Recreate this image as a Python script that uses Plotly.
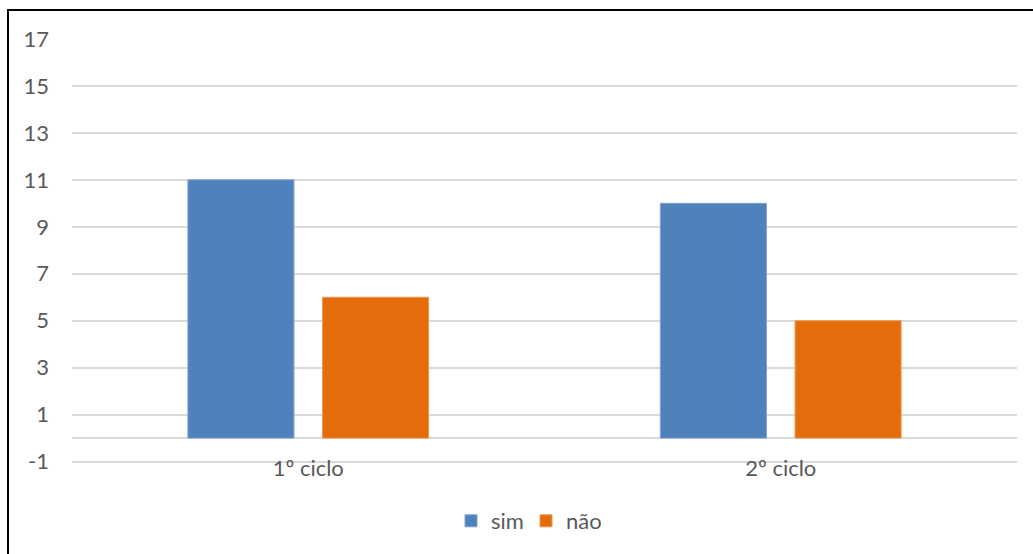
import plotly.graph_objects as go

# Data
categories = ["1º ciclo", "2º ciclo"]
sim_values = [11, 10]
nao_values = [6, 5]
series_names = ["sim", "não"]
y_ticks = [-1, 1, 3, 5, 7, 9, 11, 13, 15, 17]

BLUE = "#4F81BD"
ORANGE = "#E46C0A"
GRID = "#D9D9D9"
TEXT = "#595959"
FONT = "Lato"
FS = 22

fig = go.Figure()
fig.add_trace(go.Bar(
    x=categories, y=sim_values, name=series_names[0],
    marker=dict(color=BLUE, line=dict(color="#7FA2D3", width=1)),
))
fig.add_trace(go.Bar(
    x=categories, y=nao_values, name=series_names[1],
    marker=dict(color=ORANGE, line=dict(color="#F0964F", width=1)),
))

W, H = 1033, 554
ml, mr, mt, mb = 72, 16, 39, 91

plot_w = W - ml - mr
plot_h = H - mt - mb

def px_to_paper_x(px):
    return (px - ml) / plot_w

def px_to_paper_y(py):
    return (H - mb - py) / plot_h

fig.update_layout(
    width=W, height=H,
    margin=dict(l=ml, r=mr, t=mt, b=mb, autoexpand=False),
    paper_bgcolor="white", plot_bgcolor="white",
    barmode="group", bargap=0.43, bargroupgap=0.2125,
    font=dict(family=FONT, size=FS, color=TEXT),
    showlegend=True,
    legend=dict(
        orientation="h", x=px_to_paper_x(451), xanchor="left",
        y=px_to_paper_y(521), yanchor="middle",
        font=dict(family=FONT, size=FS, color=TEXT),
        traceorder="normal", entrywidth=30,
    ),
    xaxis=dict(
        showgrid=False, showline=False, ticks="", zeroline=False,
        tickfont=dict(family=FONT, size=FS, color=TEXT),
        ticklabelstandoff=-10,
    ),
    yaxis=dict(
        range=[-1.06, 17], tickmode="array", tickvals=y_ticks,
        ticktext=[str(v) for v in y_ticks],
        showgrid=True, gridcolor=GRID, gridwidth=1.5,
        zeroline=True, zerolinecolor=GRID, zerolinewidth=1.5,
        showline=False, ticks="",
        tickfont=dict(family=FONT, size=FS, color=TEXT),
        ticklabelstandoff=22,
    ),
)

# Chart-area frame: top and left edges (the rest runs past the page)
fig.add_shape(type="line", xref="paper", yref="paper",
              x0=px_to_paper_x(8), x1=px_to_paper_x(1040),
              y0=px_to_paper_y(10), y1=px_to_paper_y(10),
              line=dict(color="black", width=2))
fig.add_shape(type="line", xref="paper", yref="paper",
              x0=px_to_paper_x(8), x1=px_to_paper_x(8),
              y0=px_to_paper_y(9), y1=px_to_paper_y(560),
              line=dict(color="black", width=2))

fig.write_html("out.html", config=dict(displayModeBar=False))
